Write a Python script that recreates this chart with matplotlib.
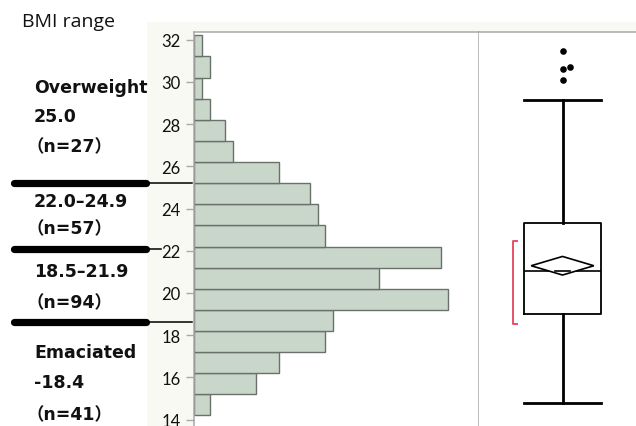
import matplotlib
matplotlib.use("Agg")
import matplotlib.pyplot as plt
from matplotlib.patches import Rectangle, Polygon
from matplotlib.transforms import blended_transform_factory

# ---- data ----
bin_edges = [14.2, 15.2, 16.2, 17.2, 18.2, 19.2, 20.2, 21.2, 22.2, 23.2,
             24.2, 25.2, 26.2, 27.2, 28.2, 29.2, 30.2, 31.2, 32.2]
bin_counts = [2, 8, 11, 17, 18, 33, 24, 32, 17, 16, 15, 11, 5, 4, 2, 1, 2, 1]

y_ticks = [14, 16, 18, 20, 22, 24, 26, 28, 30, 32]

box_stats = dict(whislo=14.77, q1=19.01, med=21.02, q3=23.31, whishi=29.16)
outliers = [31.45, 30.69, 30.61, 30.10]
outlier_jitter = [0.0, 0.045, 0.0, 0.0]
mean_value = 21.29
mean_ci_half = 0.44
shortest_half = (18.51, 22.45)

group_labels = [
    ["Overweight", "25.0", "（n=27）"],
    ["22.0–24.9", "（n=57）"],
    ["18.5–21.9", "（n=94）"],
    ["Emaciated", "-18.4", "（n=41）"],
]
group_label_rows = [[88, 117, 147], [202, 229], [272, 303], [353, 383, 415]]
boundary_levels = [25.2, 22.07, 18.64]
boundary_thin_end = [192, 161, 192]

W, H = 636, 427
fig = plt.figure(figsize=(W / 100, H / 100), dpi=100)
fig.patch.set_facecolor("white")

def fx(px):
    return px / W

def fy(py):
    return 1 - py / H

# light panel behind the plot frames
fig.patches.append(Rectangle((fx(147), 0), 1 - fx(147), fy(23), transform=fig.transFigure,
                             facecolor="#f8f9f3", edgecolor="none", zorder=-5))

ylim = (13.70, 32.36)
frame_col = "#a8a8a8"

# ---- histogram ----
ax1 = fig.add_axes([fx(194.3), 0, fx(479.3) - fx(194.3), fy(33)])
ax1.set_zorder(1)
ax1.set_facecolor("white")
ax1.barh(bin_edges[:-1], bin_counts, height=[b - a for a, b in zip(bin_edges[:-1], bin_edges[1:])],
         align="edge", color="#c9d6ca", edgecolor="#69716a", linewidth=1.0)
ax1.set_xlim(0, 37)
ax1.set_ylim(*ylim)
ax1.set_xticks([])
ax1.set_yticks(y_ticks)
ax1.set_yticklabels([str(t) for t in y_ticks], fontsize=12, family=["Lato", "DejaVu Sans"])
ax1.tick_params(axis="y", color=frame_col, length=6, width=1, pad=4, labelcolor="#111111")
for s in ("left", "top", "right"):
    ax1.spines[s].set_color(frame_col)
    ax1.spines[s].set_linewidth(1.1)
ax1.spines["bottom"].set_visible(False)

# ---- box plot ----
ax2 = fig.add_axes([fx(479.3), 0, 1 - fx(479.3), fy(33)])
ax2.set_zorder(1)
ax2.set_facecolor("white")
ax2.set_xlim(0, 1)
ax2.set_ylim(*ylim)
box_x = 0.531
box_w = 0.487
stats = dict(box_stats, fliers=[])
ax2.bxp([stats], positions=[box_x], widths=[box_w], capwidths=[box_w], showfliers=False,
        boxprops=dict(color="black", linewidth=1.3),
        whiskerprops=dict(color="black", linewidth=2.0),
        capprops=dict(color="black", linewidth=2.0),
        medianprops=dict(color="black", linewidth=1.2))
ax2.scatter([box_x + j for j in outlier_jitter], outliers, s=14, color="black", zorder=5)

# mean diamond with confidence interval
dx = 0.2
diamond = Polygon([(box_x - dx, mean_value), (box_x, mean_value + mean_ci_half),
                   (box_x + dx, mean_value), (box_x, mean_value - mean_ci_half)],
                  closed=True, facecolor="white", edgecolor="black", linewidth=1.2, zorder=4)
ax2.add_patch(diamond)
ax2.plot([box_x - 0.05, box_x + 0.05], [box_stats["med"]] * 2, color="black", lw=1.2, zorder=5)

# shortest-half bracket
bx = 0.218
ax2.plot([bx + 0.03, bx, bx, bx + 0.03],
         [shortest_half[0], shortest_half[0], shortest_half[1], shortest_half[1]],
         color="#e8506a", lw=1.4, solid_capstyle="butt")

ax2.set_xticks([])
ax2.set_yticks([])
for s in ("left", "right", "bottom"):
    ax2.spines[s].set_visible(False)
ax2.spines["top"].set_color(frame_col)
ax2.spines["top"].set_linewidth(1.1)

# ---- group annotations ----
fig.text(fx(22), fy(22), "BMI range", fontsize=14, family=["Open Sans", "DejaVu Sans"],
         va="center", ha="left", color="#111111")
label_family = ["DejaVu Sans", "Noto Sans CJK JP"]
for lines, rows in zip(group_labels, group_label_rows):
    for line, row in zip(lines, rows):
        x0 = 27 if line.startswith("（") else 34
        fig.text(fx(x0), fy(row), line, fontsize=12.5, fontweight="bold", family=label_family,
                 va="center", ha="left", color="#111111")

tr = blended_transform_factory(fig.transFigure, ax1.transData)
for level, thin_end in zip(boundary_levels, boundary_thin_end):
    fig.add_artist(plt.Line2D([fx(14), fx(146)], [level, level], transform=tr,
                              color="black", lw=5.2, solid_capstyle="round", zorder=3))
    fig.add_artist(plt.Line2D([fx(146), fx(thin_end)], [level, level], transform=tr,
                              color="black", lw=1.1, zorder=3))

fig.savefig("out.png", dpi=100, facecolor=fig.get_facecolor())
